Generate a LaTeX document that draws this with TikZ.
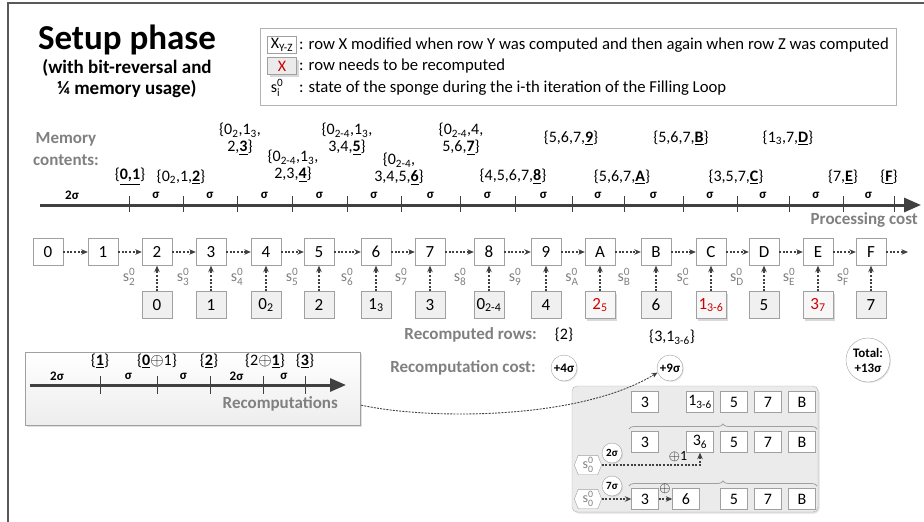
\documentclass[tikz,border=0pt]{standalone}
\usepackage{amsmath}
\usepackage{fontspec}
\setmainfont{Carlito}
\usetikzlibrary{arrows.meta,shadows,decorations.pathreplacing,calc}
\definecolor{tgray}{HTML}{808080}
\definecolor{bgray}{HTML}{A0A0A0}
\definecolor{agray}{HTML}{404040}
\definecolor{xred}{HTML}{D00000}
\definecolor{lfill}{HTML}{F0F0F0}
\definecolor{gfill}{HTML}{EBEBEB}
\newcommand{\sst}[1]{s\ensuremath{^{\text{0}}_{\text{#1}}}}
\newcommand{\ubf}[1]{\underline{\textbf{#1}}}
\newcommand{\sbs}[1]{\ensuremath{_{\text{#1}}}}
\begin{document}
\begin{tikzpicture}[x=1pt,y=-1pt,
  rowbox/.style={draw=bgray, fill=white, minimum width=30pt, minimum height=27pt, inner sep=0pt, font=\fontsize{17}{17}\selectfont},
  lowbox/.style={rowbox, fill=lfill},
  redbox/.style={rowbox, fill=white!97!black, text=xred, drop shadow={shadow xshift=2pt, shadow yshift=-2pt, opacity=0.3}},
  dotarr/.style={draw=agray, dash pattern=on 2pt off 1.6pt, line width=1.4pt, -{Stealth[length=6.5pt,width=5.5pt]}},
  memset/.style={font=\fontsize{16}{17}\selectfont, align=center, inner sep=0pt},
  siglab/.style={font=\bfseries\fontsize{13}{13}\selectfont, inner sep=0pt},
  glabel/.style={text=tgray, font=\bfseries\fontsize{17}{22}\selectfont, inner sep=0pt},
  slab/.style={text=tgray, font=\fontsize{16}{16}\selectfont, inner sep=0pt},
  costc/.style={circle, draw=bgray, fill=white, inner sep=0pt, minimum size=26pt, font=\bfseries\fontsize{13}{13}\selectfont, drop shadow={shadow xshift=1pt, shadow yshift=-1pt, opacity=0.2}},
  axisln/.style={draw=agray, line width=3pt, -{Triangle[length=17pt,width=14pt]}},
  tickln/.style={draw=agray, line width=1pt},
  gbx/.style={draw=bgray, fill=white, minimum width=27pt, minimum height=21pt, inner sep=0pt, font=\fontsize{16}{16}\selectfont},
  hexn/.style={inner sep=0pt, minimum width=19pt, minimum height=19pt, text=tgray, font=\fontsize{14}{14}\selectfont},
  hexln/.style={draw=bgray, fill=white},
  bracel/.style={draw=bgray, line width=0.8pt, decorate, decoration={brace, amplitude=5pt}},
  legtext/.style={anchor=west, inner sep=0pt, font=\fontsize{16.7}{16.7}\selectfont},
]
\useasboundingbox (0,0) rectangle (924,522);
% frame
\draw[draw=gray!70!black, line width=1.5pt] (8,522) -- (8,3) -- (924,3);
% title
\node[font=\bfseries\fontsize{35}{35}\selectfont, inner sep=0pt] (ttl1) at (127,40) {Setup phase};
\node[font=\bfseries\fontsize{19}{19}\selectfont, inner sep=0pt] (ttl2) at (127,68) {(with bit-reversal and};
\node[font=\bfseries\fontsize{19}{19}\selectfont, inner sep=0pt] (ttl3) at (127,89) {¼ memory usage)};
% legend
\node[draw=bgray!80, fill=white, minimum width=636pt, minimum height=77pt, inner sep=0pt] (leg) at (578,66.5) {};
\node[draw=bgray, fill=white, minimum width=29pt, minimum height=17pt, inner sep=0pt, font=\fontsize{16}{16}\selectfont] (legx) at (282,45) {X\sbs{Y-Z}};
\node[legtext] (legt1) at (299,45) {: row X modified when row Y was computed and then again when row Z was computed};
\node[draw=bgray, fill=gfill, minimum width=29pt, minimum height=17pt, inner sep=0pt, text=xred, font=\fontsize{16}{16}\selectfont, drop shadow={shadow xshift=2pt, shadow yshift=-2pt, opacity=0.3}] (legr) at (282,66) {X};
\node[legtext] (legt2) at (299,66) {: row needs to be recomputed};
\node[inner sep=0pt, font=\fontsize{16}{16}\selectfont] (legs) at (277,88) {\sst{i}};
\node[legtext] (legt3) at (299,88) {: state of the sponge during the i-th iteration of the Filling Loop};
% memory contents
\node[glabel, align=center] (memlab) at (66,149) {Memory\\contents:};
\node[memset] (m1) at (130,177) {\{\ubf{0,1}\}};
\node[memset] (m2) at (181,177) {\{0\sbs{2},1,\ubf{2}\}};
\node[memset] (m3) at (240,139) {\{0\sbs{2},1\sbs{3},\\2,\ubf{3}\}};
\node[memset] (m4) at (293,166) {\{0\sbs{2-4},1\sbs{3},\\2,3,\ubf{4}\}};
\node[memset] (m5) at (347,139) {\{0\sbs{2-4},1\sbs{3},\\3,4,\ubf{5}\}};
\node[memset] (m6) at (399,169) {\{0\sbs{2-4},\\3,4,5,\ubf{6}\}};
\node[memset] (m7) at (461,139) {\{0\sbs{2-4},4,\\5,6,\ubf{7}\}};
\node[memset] (m8) at (513,177) {\{4,5,6,7,\ubf{8}\}};
\node[memset] (m9) at (571,138) {\{5,6,7,\ubf{9}\}};
\node[memset] (mA) at (622,177) {\{5,6,7,\ubf{A}\}};
\node[memset] (mB) at (681,138) {\{5,6,7,\ubf{B}\}};
\node[memset] (mC) at (736,177) {\{3,5,7,\ubf{C}\}};
\node[memset] (mD) at (788,138) {\{1\sbs{3},7,\ubf{D}\}};
\node[memset] (mE) at (843,177) {\{7,\ubf{E}\}};
\node[memset] (mF) at (889,177) {\{\ubf{F}\}};
% axis
\coordinate (ax0) at (40,205);
\coordinate (ax1) at (921,205);
\draw[axisln] (ax0) -- (ax1);
\foreach \k/\x in {1/129,2/183,3/237,4/292,5/347,6/401,7/460,8/515,9/572,10/624,11/683,12/737,13/789,14/843,15/894}
  {\coordinate (k\k) at (\x,205); \draw[tickln] (\x,196) -- (\x,212);}
\node[siglab] (sg0) at (72,195) {2σ};
\foreach \a/\b [count=\n] in {129/183,183/237,237/292,292/347,347/401,401/460,460/515,515/572,572/624,624/683,683/737,737/789,789/843,843/894}
  \node[siglab] (sg\n) at ({(\a+\b)/2},195) {σ};
\node[glabel, anchor=east] (pcost) at (918,220) {Processing cost};
% row of boxes
\foreach \i/\lab/\x in {0/0/48,1/1/103,2/2/157,3/3/211,4/4/266,5/5/319,6/6/376,7/7/430,8/8/489,9/9/546,10/A/600,11/B/656,12/C/711,13/D/764,14/E/818,15/F/871}
  \node[rowbox] (t\i) at (\x,252) {\lab};
\foreach \i in {0,...,14}
  {\pgfmathtruncatemacro\j{\i+1} \draw[dotarr] (t\i.east) -- (t\j.west);}
\coordinate (tend) at (908,252);
\draw[dotarr] (t15.east) -- (tend);
\coordinate (rowb) at (0,305);
\coordinate (srow) at (0,277);
\foreach \i/\lab/\sty in {2/0/lowbox,3/1/lowbox,4/{0\sbs{2}}/lowbox,5/2/lowbox,6/{1\sbs{3}}/lowbox,7/3/lowbox,8/{0\sbs{2-4}}/lowbox,9/4/lowbox,10/{2\sbs{5}}/redbox,11/6/lowbox,12/{1\sbs{3-6}}/redbox,13/5/lowbox,14/{3\sbs{7}}/redbox,15/7/lowbox}
  {\node[\sty] (b\i) at (t\i |- rowb) {\lab};
   \draw[dotarr] (b\i.north) -- (t\i.south);}
\foreach \i/\lab in {2/2,3/3,4/4,5/5,6/6,7/7,8/8,9/9,10/A,11/B,12/C,13/D,14/E,15/F}
  {\pgfmathtruncatemacro\j{\i-1} \node[slab] (s\i) at (k\j |- srow) {\sst{\lab}};}
% recomputed rows / cost
\node[glabel, anchor=east] (rrlab) at (537,335) {Recomputed rows:};
\node[memset] (rr1) at (564,335) {\{2\}};
\node[memset] (rr2) at (672,337) {\{3,1\sbs{3-6}\}};
\node[glabel, anchor=east] (rclab) at (536,368) {Recomputation cost:};
\node[costc] (c4) at (564,368) {+4σ};
\node[costc] (c9) at (670,368) {+9σ};
\node[costc, minimum size=44pt, align=center, font=\bfseries\fontsize{13}{15}\selectfont] (ctot) at (868,360) {Total:\\+13σ};
% recomputations box
\node[draw=bgray, top color=white, bottom color=gray!14, minimum width=335pt, minimum height=73pt, inner sep=0pt, drop shadow={shadow xshift=2pt, shadow yshift=-2pt, opacity=0.25}] (rbox) at (192.5,388.5) {};
\coordinate (rx0) at (30,385);
\coordinate (rx1) at (346,385);
\draw[axisln, -{Triangle[length=16pt,width=13pt]}] (rx0) -- (rx1);
\foreach \x in {100,157,210,263,305} \draw[tickln] (\x,376) -- (\x,394);
\node[siglab] (rs1) at (57,376) {2σ};
\node[siglab] (rs2) at (128.5,376) {σ};
\node[siglab] (rs3) at (183.5,376) {σ};
\node[siglab] (rs4) at (236.5,376) {2σ};
\node[siglab] (rs5) at (284,376) {σ};
\node[memset] (rm1) at (100,361) {\{\ubf{1}\}};
\node[memset] (rm2) at (157,361) {\{\ubf{0}\ensuremath{\oplus}1\}};
\node[memset] (rm3) at (209,361) {\{\ubf{2}\}};
\node[memset] (rm4) at (265,361) {\{2\ensuremath{\oplus}\ubf{1}\}};
\node[memset] (rm5) at (305,361) {\{\ubf{3}\}};
\node[glabel, anchor=east] (rlab) at (338,404) {Recomputations};
% gray box
\node[draw=bgray!80, fill=gfill, rounded corners=5pt, minimum width=246pt, minimum height=126pt, inner sep=0pt, drop shadow={shadow xshift=1.5pt, shadow yshift=-1.5pt, opacity=0.25}] (gbox) at (695,449) {};
\foreach \n/\lab/\x in {1/3/645,2/{1\sbs{3-6}}/700,3/5/734,4/7/768,5/B/802}
  \node[gbx] (ga\n) at (\x,402) {\lab};
\foreach \n/\lab/\x in {1/3/645,2/{3\sbs{6}}/700,3/5/734,4/7/768,5/B/802}
  \node[gbx] (gb\n) at (\x,442) {\lab};
\foreach \n/\lab/\x in {1/3/645,2/6/686,3/5/734,4/7/768,5/B/802}
  \node[gbx] (gc\n) at (\x,499) {\lab};
\coordinate (br1a) at (629,429);
\coordinate (br1b) at (817,429);
\draw[bracel] (br1a) -- (br1b);
\coordinate (br2a) at (629,486);
\coordinate (br2b) at (817,486);
\draw[bracel] (br2a) -- (br2b);
\node[costc, minimum size=20pt, font=\bfseries\fontsize{11}{11}\selectfont] (c2s) at (612,453) {2σ};
\node[costc, minimum size=20pt, font=\bfseries\fontsize{11}{11}\selectfont] (c7s) at (612,486) {7σ};
% hexagons
\node[hexn] (h1) at (588,465) {};
\draw[hexln] ($(h1.west)+(-4,0)$) -- (h1.north west) -- (h1.north east) -- ($(h1.east)+(4,0)$) -- (h1.south east) -- (h1.south west) -- cycle;
\node[hexn] (h1t) at (h1) {\sst{0}};
\node[hexn] (h2) at (588,499) {};
\draw[hexln] ($(h2.west)+(-4,0)$) -- (h2.north west) -- (h2.north east) -- ($(h2.east)+(4,0)$) -- (h2.south east) -- (h2.south west) -- cycle;
\node[hexn] (h2t) at (h2) {\sst{0}};
\coordinate (h1tip) at ($(h1.east)+(4,0)$);
\coordinate (h2tip) at ($(h2.east)+(4,0)$);
\draw[dotarr] (h1tip) -| (gb2.south);
\node[inner sep=0pt, font=\fontsize{14}{14}\selectfont] (op1) at (678,457) {\ensuremath{\oplus}1};
\draw[dotarr] (h2tip) -- (gc1.west);
\draw[dotarr] (gc1.east) -- (gc2.west);
\node[inner sep=0pt, font=\fontsize{14}{14}\selectfont] (op2) at (665,489) {\ensuremath{\oplus}};
% curve
\coordinate (cstart) at ($(rbox.south east)+(1,-20)$);
\draw[draw=agray, dash pattern=on 2pt off 1.2pt, line width=0.9pt, -{Stealth[length=6pt,width=5pt]}] (cstart) .. controls (430,420) and (580,420) .. (c9.200);
\end{tikzpicture}
\end{document}
